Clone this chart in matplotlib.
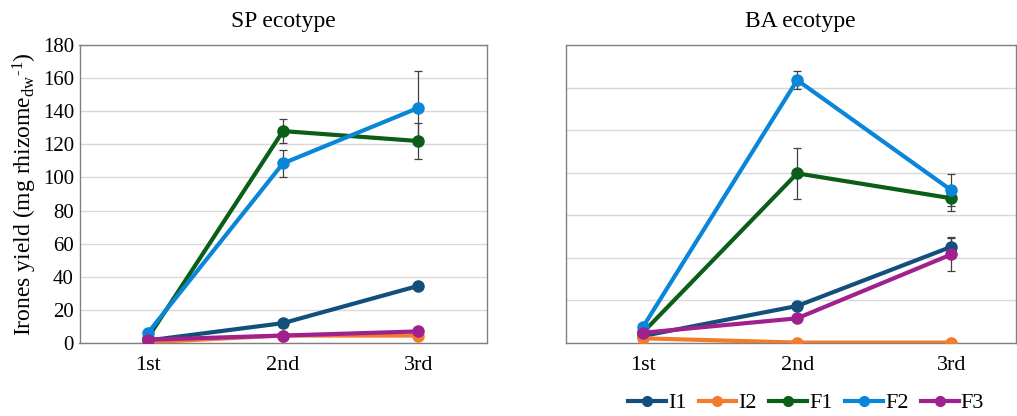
import matplotlib.pyplot as plt
from matplotlib.lines import Line2D
import numpy as np

plt.rcParams['font.family'] = ['Liberation Serif', 'DejaVu Serif']
plt.rcParams['mathtext.fontset'] = 'custom'
plt.rcParams['mathtext.rm'] = 'Liberation Serif'
plt.rcParams['mathtext.it'] = 'Liberation Serif:italic'

# harvest categories
harvests = ['1st', '2nd', '3rd']
series = ['I1', 'I2', 'F1', 'F2', 'F3']
colors = ['#124F7C', '#F47B2A', '#0B5E17', '#0A86D8', '#A0208E']

# SP ecotype (means and error)
sp_vals = {
    'I1': [1.5, 12, 34.5],
    'I2': [0.5, 4.5, 4.5],
    'F1': [3, 128, 122],
    'F2': [6, 108.5, 142],
    'F3': [2, 4.5, 7],
}
sp_err = {
    'I1': [0.5, 2.5, 1.5],
    'I2': [0, 0.5, 0.5],
    'F1': [0.5, 7.2, 10.7],
    'F2': [0.5, 8, 22],
    'F3': [0.3, 0.5, 0.8],
}

# BA ecotype
ba_vals = {
    'I1': [3.3, 17.4, 45.2],
    'I2': [2.2, 0.2, 0.2],
    'F1': [5, 79.7, 68],
    'F2': [7.6, 123.5, 71.8],
    'F3': [4.8, 11.6, 41.6],
}
ba_err = {
    'I1': [0.5, 1, 4.4],
    'I2': [0, 0, 0],
    'F1': [0.5, 12, 5.8],
    'F2': [0.5, 4.4, 7.4],
    'F3': [0.5, 1, 7.7],
}

fig = plt.figure(figsize=(10.17, 4.16), dpi=100)
W, H = 1017, 416
ax1 = fig.add_axes([79.5 / W, 1 - 343 / H, 407 / W, 298 / H])
ax2 = fig.add_axes([566 / W, 1 - 343 / H, 450 / W, 298 / H])

x = np.arange(len(harvests))


def draw(ax, vals, errs, ymax, title):
    for name, c in zip(series, colors):
        ax.errorbar(x, vals[name], yerr=errs[name], color=c, lw=3,
                    marker='o', ms=8, ecolor='#404040', elinewidth=0.9,
                    capsize=3, capthick=0.9, zorder=3)
    ax.set_ylim(0, ymax)
    ax.set_yticks(np.arange(0, ymax + 1, 20))
    ax.set_xticks(x)
    ax.set_xticklabels(harvests, fontsize=16)
    ax.grid(axis='y', color='#D9D9D9', lw=1)
    ax.set_axisbelow(True)
    for s in ax.spines.values():
        s.set_color('#808080')
        s.set_linewidth(1)
    ax.tick_params(length=0, pad=9)
    ax.set_title(title, fontsize=17, pad=13)


draw(ax1, sp_vals, sp_err, 180, 'SP ecotype')
ax1.set_xlim(-0.505, 2.505)
ax1.tick_params(axis='y', labelsize=15, pad=4)
ax1.set_ylabel('Irones yield (mg rhizome$_{\\rm dw}$$^{\\rm \u2010 1}$)', fontsize=17, labelpad=3)

draw(ax2, ba_vals, ba_err, 140, 'BA ecotype')
ax2.set_xlim(-0.5, 2.42)
ax2.set_yticklabels([])
ax2.title.set_position((0.52, 1.0))

handles = [Line2D([], [], color=c, lw=3, marker='o', ms=7) for c in colors]
fig.legend(handles, series, loc='center', bbox_to_anchor=(806 / W, 1 - 403 / H),
           ncol=5, frameon=False, fontsize=16, handlelength=1.7,
           handletextpad=0.1, columnspacing=0.55, borderaxespad=0)

fig.savefig('out.png', dpi=100)
